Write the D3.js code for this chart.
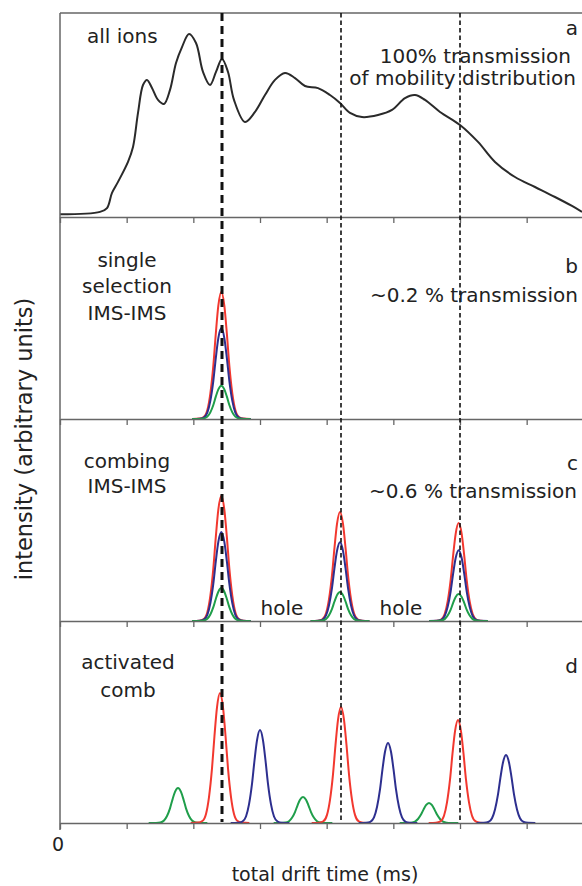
<!DOCTYPE html>
<html>
<head>
<meta charset="utf-8">
<script src="https://cdn.jsdelivr.net/npm/d3@7"></script>
<style>
  body { margin: 0; background: #fff; }
  svg text { font-family: "DejaVu Sans", sans-serif; fill: #222; }
</style>
</head>
<body>
<svg id="chart" width="582" height="886"></svg>
<script>
// all ions: drift time (ms, arb) vs intensity
const allIonsTime = [0, 0.6, 0.705, 0.78, 0.87, 1.02, 1.095, 1.17, 1.245, 1.305, 1.38, 1.47, 1.56, 1.65, 1.74, 1.83, 1.935, 2.04, 2.145, 2.25, 2.34, 2.43, 2.52, 2.61, 2.775, 2.925, 3.075, 3.225, 3.375, 3.525, 3.675, 3.87, 4.05, 4.2, 4.35, 4.53, 4.77, 4.98, 5.175, 5.325, 5.475, 5.7, 6.0, 6.27, 6.525, 6.825, 7.125, 7.425, 7.68, 7.83];
const allIonsIntensity = [0.013, 0.025, 0.044, 0.118, 0.172, 0.27, 0.343, 0.51, 0.647, 0.672, 0.632, 0.574, 0.554, 0.623, 0.755, 0.833, 0.897, 0.853, 0.711, 0.647, 0.711, 0.775, 0.711, 0.574, 0.466, 0.515, 0.598, 0.672, 0.706, 0.681, 0.642, 0.632, 0.598, 0.559, 0.51, 0.49, 0.5, 0.525, 0.583, 0.598, 0.574, 0.515, 0.451, 0.368, 0.27, 0.196, 0.147, 0.098, 0.054, 0.025];

// shape of one selected peak (offset from centre, fraction of peak height)
const peakOffsets = [-0.44, -0.33, -0.265, -0.21, -0.165, -0.12, -0.083, -0.045, 0, 0.045, 0.083, 0.12, 0.165, 0.21, 0.265, 0.33, 0.44];
const peakShape = [0, 0.003, 0.015, 0.07, 0.2, 0.42, 0.67, 0.89, 1, 0.89, 0.67, 0.42, 0.2, 0.07, 0.015, 0.003, 0];

// gate opening times (dashed lines)
const gateTimes = [2.43, 4.215, 6.0];

// b: single selection
const bCenters = [2.42];
const bRed = [0.63];
const bBlue = [0.45];
const bGreen = [0.165];

// c: combing
const cCenters = [2.42, 4.2, 5.98];
const cRed = [0.62, 0.54, 0.485];
const cBlue = [0.44, 0.39, 0.35];
const cGreen = [0.163, 0.144, 0.134];

// d: activated comb
const dRedCenters = [2.4, 4.215, 5.97];
const dRed = [0.643, 0.574, 0.51];
const dBlueCenters = [3.0, 4.92, 6.69];
const dBlue = [0.46, 0.396, 0.337];
const dGreenCenters = [1.77, 3.645, 5.535];
const dGreen = [0.173, 0.129, 0.099];

const tickValues = [0, 1, 2, 3, 4, 5, 6, 7];

const colors = { red: "#f2382f", blue: "#2d2f8f", green: "#1f9e4a" };

const svg = d3.select("#chart");
const left = 60;
const panelTop = [13, 217, 419, 621];
const panelBottom = [217, 419, 621, 823];

const x = d3.scaleLinear().domain([0, 8]).range([left, left + 8 * 66.667]);
const yFor = i => d3.scaleLinear().domain([0, 1]).range([panelBottom[i], panelTop[i]]);

const plot = svg.append("g");

// all ions trace
const ya = yFor(0);
const line = d3.line().curve(d3.curveCatmullRom.alpha(0.5))
  .x(d => x(d[0])).y(d => ya(d[1]));
plot.append("path")
  .datum(d3.zip(allIonsTime, allIonsIntensity))
  .attr("d", line)
  .attr("fill", "none").attr("stroke", "#2a2a2a").attr("stroke-width", 2);

function drawPeaks(panel, centers, heights, color) {
  const y = yFor(panel);
  const pl = d3.line().curve(d3.curveMonotoneX).x(d => x(d[0])).y(d => y(d[1]));
  centers.forEach((c, i) => {
    const pts = peakOffsets.map((o, k) => [c + o, peakShape[k] * heights[i]]);
    plot.append("path").datum(pts).attr("d", pl)
      .attr("fill", "none").attr("stroke", color).attr("stroke-width", 2);
  });
}

drawPeaks(1, bCenters, bRed, colors.red);
drawPeaks(1, bCenters, bBlue, colors.blue);
drawPeaks(1, bCenters, bGreen, colors.green);

drawPeaks(2, cCenters, cRed, colors.red);
drawPeaks(2, cCenters, cBlue, colors.blue);
drawPeaks(2, cCenters, cGreen, colors.green);

drawPeaks(3, dGreenCenters, dGreen, colors.green);
drawPeaks(3, dRedCenters, dRed, colors.red);
drawPeaks(3, dBlueCenters, dBlue, colors.blue);

// axes
svg.append("line").attr("x1", left).attr("x2", 582).attr("y1", panelTop[0]).attr("y2", panelTop[0])
  .attr("stroke", "#666").attr("stroke-width", 1.5);
svg.append("line").attr("x1", left).attr("x2", left).attr("y1", panelTop[0]).attr("y2", panelBottom[3] + 7)
  .attr("stroke", "#666").attr("stroke-width", 1.5);

panelBottom.forEach((b, i) => {
  const ax = svg.append("g").attr("transform", "translate(0," + b + ")")
    .call(d3.axisBottom(x).tickValues(tickValues).tickSizeInner(6).tickSizeOuter(0).tickPadding(8.5)
      .tickFormat(d => (i === 3 && d === 0) ? "0" : ""));
  ax.select(".domain").attr("stroke", "#666").attr("stroke-width", 1.5);
  ax.selectAll(".tick line").attr("stroke", "#666").attr("stroke-width", 1.3);
  ax.selectAll(".tick text").attr("font-size", 19).attr("font-family", "DejaVu Sans").attr("fill", "#222")
    .attr("dx", -2.5);
});

// gate lines
gateTimes.forEach((t, i) => {
  svg.append("line")
    .attr("x1", x(t)).attr("x2", x(t))
    .attr("y1", panelTop[0]).attr("y2", panelBottom[3] - 1)
    .attr("stroke", "#111")
    .attr("stroke-width", i === 0 ? 3 : 1.6)
    .attr("stroke-dasharray", i === 0 ? "8,5" : "4.5,3");
});

// labels
function label(txt, px, py, anchor, size) {
  svg.append("text").attr("x", px).attr("y", py)
    .attr("text-anchor", anchor || "start")
    .attr("font-size", size || 20)
    .text(txt);
}
label("all ions", 87, 43);
label("a", 578, 35, "end");
label("100% transmission", 571, 63, "end");
label("of mobility distribution", 576, 85, "end");

label("single", 127, 267, "middle");
label("selection", 127, 293, "middle");
label("IMS-IMS", 127, 320, "middle");
label("b", 578, 273, "end");
label("~0.2 % transmission", 578, 302, "end");

label("combing", 127, 468, "middle");
label("IMS-IMS", 127, 493, "middle");
label("c", 578, 470, "end");
label("~0.6 % transmission", 577, 498, "end");
label("hole", 282, 615, "middle");
label("hole", 401, 615, "middle");

label("activated", 128, 669, "middle");
label("comb", 128, 697, "middle");
label("d", 578, 673, "end");

label("total drift time (ms)", 325, 881, "middle", 19);

svg.append("text")
  .attr("transform", "translate(32,439) rotate(-90)")
  .attr("text-anchor", "middle")
  .attr("font-size", 22.5)
  .text("intensity (arbitrary units)");
</script>
</body>
</html>
